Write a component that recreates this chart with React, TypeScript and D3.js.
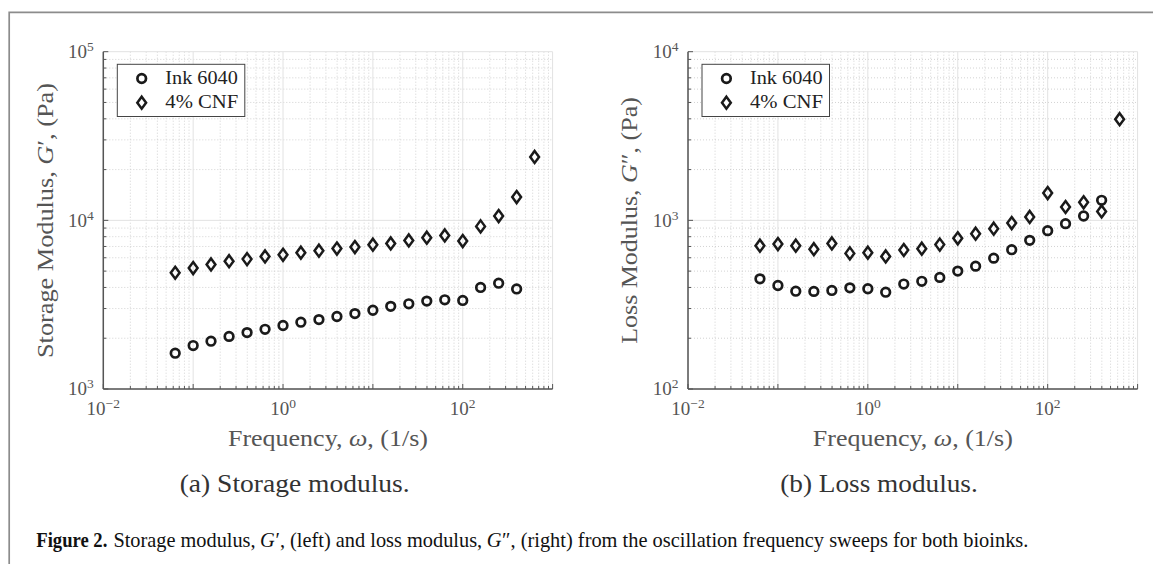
import React from "react";
import * as d3 from "d3";

// ---------- data ----------
const freqInk = [0.0631, 0.1, 0.158, 0.251, 0.398, 0.631, 1, 1.58, 2.51, 3.98, 6.31, 10, 15.8, 25.1, 39.8, 63.1, 100, 158, 251, 398];
const freqCNF = [0.0631, 0.1, 0.158, 0.251, 0.398, 0.631, 1, 1.58, 2.51, 3.98, 6.31, 10, 15.8, 25.1, 39.8, 63.1, 100, 158, 251, 398, 631];

const storageInk = [1630, 1810, 1920, 2050, 2160, 2260, 2380, 2490, 2580, 2690, 2800, 2930, 3090, 3200, 3320, 3380, 3350, 4000, 4240, 3920];
const storageCNF = [4890, 5210, 5480, 5730, 5890, 6110, 6250, 6430, 6610, 6800, 6940, 7170, 7300, 7600, 7890, 8140, 7540, 9210, 10600, 13740, 23770];

const lossInk = [450, 411, 380, 379, 384, 398, 393, 375, 419, 435, 459, 500, 535, 597, 670, 761, 869, 956, 1061, 1315];
const lossCNF = [708, 723, 708, 675, 730, 637, 643, 611, 667, 679, 718, 782, 834, 893, 964, 1047, 1452, 1200, 1279, 1130, 3980];

const seriesNames = ["Ink 6040", "4% CNF"];
const xDomain: [number, number] = [0.01, 1000];
const xTickExps = [-2, 0, 2];
const storageDomain: [number, number] = [1e3, 1e5];
const storageTickExps = [3, 4, 5];
const lossDomain: [number, number] = [1e2, 1e4];
const lossTickExps = [2, 3, 4];

const captionPieces: { t: string; italic: boolean }[] = [
  { t: "Storage modulus,", italic: false },
  { t: "G", italic: true },
  { t: "\u2032, (left) and loss modulus,", italic: false },
  { t: "G", italic: true },
  { t: "\u2033, (right) from the oscillation frequency sweeps for both bioinks.", italic: false },
];

const FONT = "'Liberation Serif', 'DejaVu Serif', serif";
const AXIS = "#555";
const TXT = "#555";
const MARK = "#1a1a1a";

function minorValues(domain: [number, number]) {
  const out: number[] = [];
  const e0 = Math.round(Math.log10(domain[0]));
  const e1 = Math.round(Math.log10(domain[1]));
  for (let e = e0; e < e1; e++) for (let k = 2; k <= 9; k++) out.push(k * Math.pow(10, e));
  return out;
}
function majorValues(domain: [number, number]) {
  const out: number[] = [];
  const e0 = Math.round(Math.log10(domain[0]));
  const e1 = Math.round(Math.log10(domain[1]));
  for (let e = e0; e <= e1; e++) out.push(Math.pow(10, e));
  return out;
}

function measure(text: string, italic: boolean, size: number) {
  try {
    const c = document.createElement("canvas").getContext("2d");
    if (!c) return text.length * size * 0.45;
    c.font = `${italic ? "italic " : ""}${size}px ${FONT}`;
    return c.measureText(text).width;
  } catch (e) {
    return text.length * size * 0.45;
  }
}

const Circle = ({ cx, cy }: { cx: number; cy: number }) => (
  <circle cx={cx} cy={cy} r={4.3} fill="none" stroke={MARK} strokeWidth={2.7} />
);
const Diamond = ({ cx, cy }: { cx: number; cy: number }) => (
  <path d={`M${cx},${cy - 6}L${cx + 4.4},${cy}L${cx},${cy + 6}L${cx - 4.4},${cy}Z`} fill="none" stroke={MARK} strokeWidth={2.5} strokeLinejoin="miter" />
);

const Pow = ({ x, y, exp, anchor }: { x: number; y: number; exp: number; anchor: string }) => (
  <text x={x} y={y} textAnchor={anchor} fontFamily={FONT} fontSize={19} fill={TXT}>
    10
    <tspan dy={-7} fontSize={13.5}>{exp < 0 ? "\u2212" + Math.abs(exp) : String(exp)}</tspan>
  </text>
);

type PanelProps = {
  left: number;
  right: number;
  yDomain: [number, number];
  yTickExps: number[];
  ink: number[];
  cnf: number[];
  yTitle: React.ReactNode;
  yTitleX: number;
  yTitleLen: number;
  caption: string;
  captionX: number;
  captionLen: number;
};

function Panel(p: PanelProps) {
  const top = 51.7;
  const bottom = 389;
  const x = d3.scaleLog().domain(xDomain).range([p.left, p.right]);
  const y = d3.scaleLog().domain(p.yDomain).range([bottom, top]);
  const xMin = minorValues(xDomain);
  const yMin = minorValues(p.yDomain);
  const xMaj = majorValues(xDomain);
  const yMaj = majorValues(p.yDomain);
  const midX = (p.left + p.right) / 2;
  const lgX = p.left + 14;
  return (
    <g>
      {/* minor grid */}
      {xMin.map((v, i) => (
        <line key={"xm" + i} x1={x(v)} x2={x(v)} y1={top} y2={bottom} stroke="#c8c8c8" strokeWidth={0.8} strokeDasharray="1,2" />
      ))}
      {yMin.map((v, i) => (
        <line key={"ym" + i} x1={p.left} x2={p.right} y1={y(v)} y2={y(v)} stroke="#c8c8c8" strokeWidth={0.8} strokeDasharray="1,2" />
      ))}
      {/* major grid */}
      {xMaj.map((v, i) => (
        <line key={"xM" + i} x1={x(v)} x2={x(v)} y1={top} y2={bottom} stroke="#e2e2e2" strokeWidth={1} />
      ))}
      {yMaj.map((v, i) => (
        <line key={"yM" + i} x1={p.left} x2={p.right} y1={y(v)} y2={y(v)} stroke="#e2e2e2" strokeWidth={1} />
      ))}
      {/* ticks */}
      {xMin.map((v, i) => (
        <line key={"xt" + i} x1={x(v)} x2={x(v)} y1={bottom} y2={bottom - 3} stroke={AXIS} strokeWidth={1} />
      ))}
      {xMaj.map((v, i) => (
        <line key={"xT" + i} x1={x(v)} x2={x(v)} y1={bottom} y2={bottom - 5} stroke={AXIS} strokeWidth={1} />
      ))}
      {yMin.map((v, i) => (
        <line key={"yt" + i} x1={p.left} x2={p.left + 3} y1={y(v)} y2={y(v)} stroke={AXIS} strokeWidth={1} />
      ))}
      {yMaj.map((v, i) => (
        <line key={"yT" + i} x1={p.left} x2={p.left + 5} y1={y(v)} y2={y(v)} stroke={AXIS} strokeWidth={1} />
      ))}
      {/* axes */}
      <line x1={p.left} x2={p.left} y1={top} y2={bottom} stroke={AXIS} strokeWidth={1.5} />
      <line x1={p.left} x2={p.right} y1={bottom} y2={bottom} stroke={AXIS} strokeWidth={1.5} />
      {/* tick labels */}
      {xTickExps.map((e) => (
        <Pow key={"xl" + e} x={x(Math.pow(10, e))} y={414.5} exp={e} anchor="middle" />
      ))}
      {p.yTickExps.map((e) => (
        <Pow key={"yl" + e} x={p.left - 9.5} y={y(Math.pow(10, e)) + 6.3} exp={e} anchor="end" />
      ))}
      {/* data */}
      {p.cnf.map((v, i) => (
        <Diamond key={"d" + i} cx={x(freqCNF[i])} cy={y(v)} />
      ))}
      {p.ink.map((v, i) => (
        <Circle key={"c" + i} cx={x(freqInk[i])} cy={y(v)} />
      ))}
      {/* legend */}
      <rect x={lgX} y={64.3} width={127.5} height={52.2} fill="#fff" stroke="#444" strokeWidth={1} />
      <Circle cx={lgX + 24.4} cy={78.5} />
      <Diamond cx={lgX + 24.4} cy={102.7} />
      <text x={lgX + 48} y={83.5} fontFamily={FONT} fontSize={19.5} fill="#222" textLength={72.5} lengthAdjust="spacingAndGlyphs">{seriesNames[0]}</text>
      <text x={lgX + 48} y={107.8} fontFamily={FONT} fontSize={19.5} fill="#222" textLength={73} lengthAdjust="spacingAndGlyphs">{seriesNames[1]}</text>
      {/* axis titles */}
      <text x={midX} y={446} textAnchor="middle" fontFamily={FONT} fontSize={24} fill={TXT} textLength={200} lengthAdjust="spacingAndGlyphs">
        Frequency, <tspan fontStyle="italic">ω</tspan>, (1/s)
      </text>
      <text transform={`translate(${p.yTitleX},220.5) rotate(-90)`} textAnchor="middle" fontFamily={FONT} fontSize={24} fill={TXT} textLength={p.yTitleLen} lengthAdjust="spacingAndGlyphs">
        {p.yTitle}
      </text>
      {/* sub caption */}
      <text x={p.captionX} y={492} textAnchor="middle" fontFamily={FONT} fontSize={25} fill="#333" textLength={p.captionLen} lengthAdjust="spacingAndGlyphs">
        {p.caption}
      </text>
    </g>
  );
}

function Caption() {
  const size = 21;
  const startX = 112.8;
  const total = 915.6;
  const gap = 4.5; // word space before each italic G
  const widths = captionPieces.map((pc) => measure(pc.t, pc.italic, size));
  const nGaps = captionPieces.filter((pc) => pc.italic).length;
  const sum = widths.reduce((a, b) => a + b, 0) || 1;
  const k = (total - nGaps * gap) / sum;
  let cur = startX;
  return (
    <g>
      <text x={36.3} y={546.7} fontFamily={FONT} fontSize={size} fontWeight="bold" fill="#111" textLength={71} lengthAdjust="spacingAndGlyphs">
        Figure 2.
      </text>
      {captionPieces.map((pc, i) => {
        if (pc.italic) cur += gap;
        const w = widths[i] * k;
        const x0 = cur + (pc.italic ? 0 : 0.6);
        const len = pc.italic ? w : w - 0.6;
        cur += w;
        return (
          <text key={i} x={x0} y={546.7} fontFamily={FONT} fontSize={size} fontStyle={pc.italic ? "italic" : "normal"} fill="#111" textLength={len} lengthAdjust="spacingAndGlyphs">
            {pc.t}
          </text>
        );
      })}
    </g>
  );
}

export default function App() {
  return (
    <svg width={1153} height={564} style={{ position: "absolute", left: 0, top: 0, background: "#fff" }}>
      <rect x={0} y={0} width={1153} height={564} fill="#fff" />
      {/* outer frame */}
      <path d="M9.2,564L9.2,12.3L1153,12.3" fill="none" stroke="#8c8c8c" strokeWidth={1.7} />
      <Panel
        left={103.3}
        right={552.6}
        yDomain={storageDomain}
        yTickExps={storageTickExps}
        ink={storageInk}
        cnf={storageCNF}
        yTitle={<>Storage Modulus, <tspan fontStyle="italic">G</tspan>{"\u2032"}, (Pa)</>}
        yTitleX={53}
        yTitleLen={275}
        caption="(a) Storage modulus."
        captionX={294.7}
        captionLen={230}
      />
      <Panel
        left={688}
        right={1137.6}
        yDomain={lossDomain}
        yTickExps={lossTickExps}
        ink={lossInk}
        cnf={lossCNF}
        yTitle={<>Loss Modulus, <tspan fontStyle="italic">G</tspan>{"\u2033"}, (Pa)</>}
        yTitleX={637}
        yTitleLen={246.6}
        caption="(b) Loss modulus."
        captionX={879}
        captionLen={197.6}
      />
      <Caption />
    </svg>
  );
}
